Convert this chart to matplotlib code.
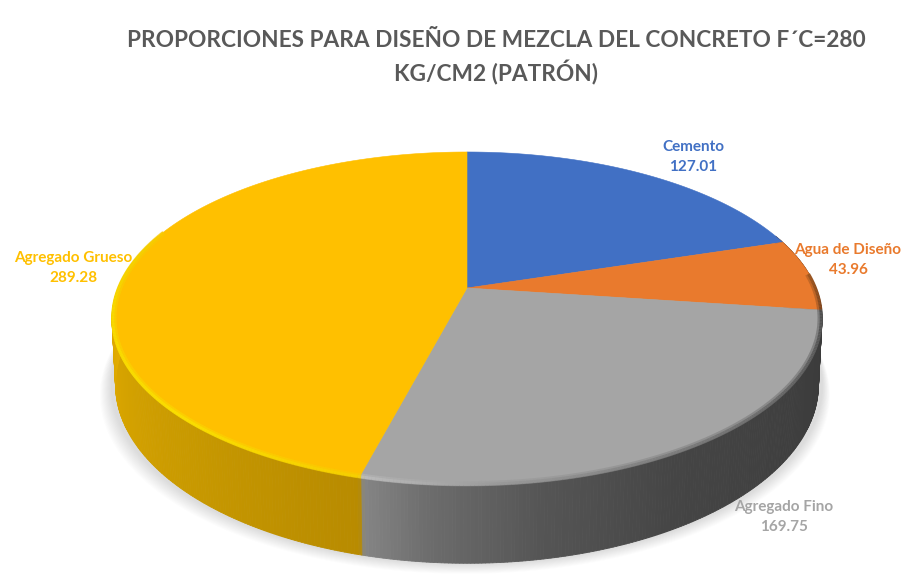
"""Perspective pie of concrete mix proportions, drawn as a solid disc."""

import matplotlib

matplotlib.use("Agg")
import matplotlib.pyplot as plt
import numpy as np
from matplotlib.collections import LineCollection, PolyCollection
from matplotlib.colors import to_rgb
from matplotlib.patches import Polygon

TITLE = "PROPORCIONES PARA DISEÑO DE MEZCLA DEL CONCRETO F´C=280\nKG/CM2 (PATRÓN)"
CATEGORIES = ["Cemento", "Agua de Diseño", "Agregado Fino", "Agregado Grueso"]
VALUES = [127.01, 43.96, 169.75, 289.28]

COLORS = ["#4170C4", "#E97A2D", "#A5A5A5", "#FFC000"]
LABEL_XY = [(693, 157), (848, 260), (784, 517), (73, 268)]

# projection of the unit disc on to the page, in pixels
CX, CY = 467.0, 288.0
RX, RY = 349.0, 160.9
TILT = 0.183
DEPTH = 64.0

# side wall shading, (clockwise angle from 12 o'clock, colour)
SIDE_STOPS = [
    (60, "#5a3216"), (97.6, "#6a3a18"), (98.5, "#3a3a3a"), (120, "#3e3e3e"),
    (150, "#454545"), (170, "#555555"), (185, "#6c6c6c"), (194.2, "#858585"),
    (194.8, "#B88B00"), (225, "#C99A00"), (260, "#DDA800"), (285, "#EDB400"),
    (300, "#EDB400"),
]
RIM_STOPS = [
    (85, "#9a5520"), (97.4, "#7a4520"), (97.8, "#4a4a4a"),
    (120, "#5e5e5e"), (150, "#7a7a7a"), (175, "#989898"), (194.2, "#BDBDBD"),
    (194.8, "#F6D000"), (225, "#FAE000"), (260, "#F8DC00"), (285, "#F5D000"),
    (300, "#FFC000"),
]


def project(theta_deg, radius=1.0, drop=0.0):
    """Map clockwise disc angles to page pixels, with an optional wall drop."""
    theta = np.radians(theta_deg)
    u = radius * np.sin(theta)
    v = -radius * np.cos(theta)
    w = 1 - TILT * v
    return CX + RX * u / w, CY + RY * v / w + drop / w


def blend(theta_deg, stops):
    angles = [s[0] for s in stops]
    rgb = np.array([to_rgb(s[1]) for s in stops])
    return np.column_stack([np.interp(theta_deg, angles, rgb[:, i]) for i in range(3)])


def draw_shadow(ax):
    theta = np.linspace(60, 300, 200)
    x, y = project(theta, drop=DEPTH)
    cx = x.mean()
    for spread in np.linspace(14, 1, 12):
        px = cx + (x - cx) * (1 + spread / 500) - spread * 0.15
        py = y + spread * 0.75
        ax.add_patch(Polygon(np.column_stack([px, py]), closed=True,
                             facecolor="#606060", edgecolor="none", alpha=0.016, zorder=1))


def draw_side(ax):
    theta = np.arange(70, 290, 0.5)
    top_x, top_y = project(theta)
    bot_x, bot_y = project(theta, drop=DEPTH)
    bot_x = CX + (bot_x - CX) * 0.99
    quads = [
        [(top_x[i], top_y[i]), (top_x[i + 1], top_y[i + 1]),
         (bot_x[i + 1], bot_y[i + 1]), (bot_x[i], bot_y[i])]
        for i in range(len(theta) - 1)
    ]
    colors = blend(theta[:-1] + 0.25, SIDE_STOPS)
    ax.add_collection(PolyCollection(quads, facecolors=colors, edgecolors=colors,
                                     linewidths=0.6, zorder=2))


def draw_top(ax):
    fractions = np.cumsum([0] + VALUES) / sum(VALUES) * 360
    for start, end, color in zip(fractions[:-1], fractions[1:], COLORS):
        theta = np.linspace(start, end, 200)
        x, y = project(theta)
        points = np.column_stack([np.r_[CX, x], np.r_[CY, y]])
        ax.add_patch(Polygon(points, closed=True, facecolor=color, edgecolor=color,
                             linewidth=0.4, zorder=3))


def draw_rim(ax):
    # soft bevel along the near edge of the top face
    theta = np.arange(85, 292, 0.5)
    for radius, width, alpha in [(0.995, 3.8, 0.45), (0.998, 2.2, 0.9)]:
        x, y = project(theta, radius=radius)
        pts = np.column_stack([x, y])
        segments = np.stack([pts[:-1], pts[1:]], axis=1)
        colors = blend(theta[:-1] + 0.25, RIM_STOPS)
        ax.add_collection(LineCollection(segments, colors=colors, linewidths=width,
                                         alpha=alpha, capstyle="butt", zorder=4))


def main():
    plt.rcParams["font.family"] = ["Lato", "DejaVu Sans"]
    fig = plt.figure(figsize=(9.03, 5.75), dpi=100)
    ax = fig.add_axes([0, 0, 1, 1])
    ax.set_xlim(0, 903)
    ax.set_ylim(575, 0)
    ax.axis("off")

    draw_shadow(ax)
    draw_side(ax)
    draw_top(ax)
    draw_rim(ax)

    ax.text(496, 58, TITLE, ha="center", va="center", fontsize=16.3, fontweight="bold",
            color="#595959", linespacing=1.42, zorder=6)
    for name, value, color, (x, y) in zip(CATEGORIES, VALUES, COLORS, LABEL_XY):
        ax.text(x, y, f"{name}\n{value:.2f}", ha="center", va="center", fontsize=11,
                fontweight="bold", color=color, linespacing=1.55, zorder=6)

    fig.savefig("out.png", dpi=100)
    plt.close(fig)


if __name__ == "__main__":
    main()
